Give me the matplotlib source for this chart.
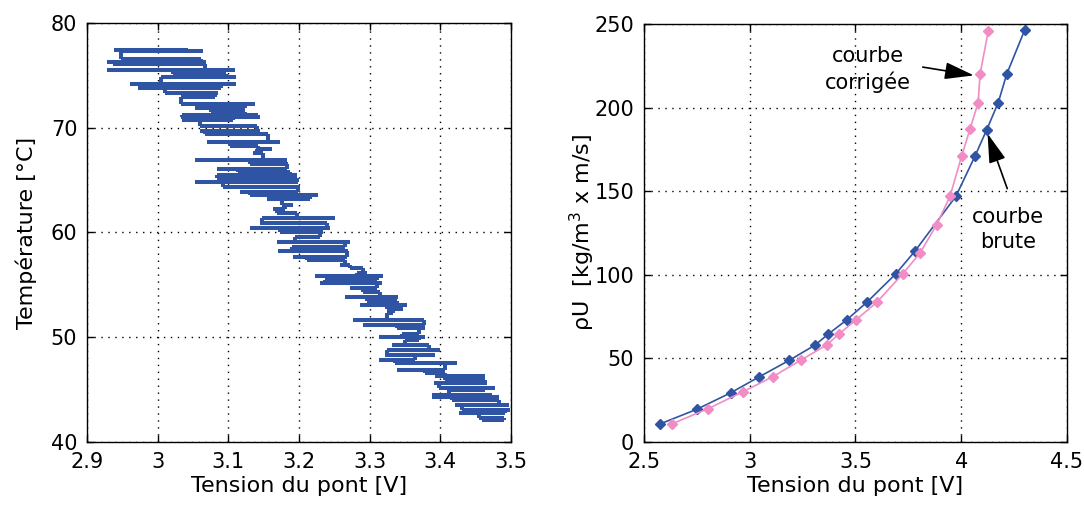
import numpy as np
import matplotlib
matplotlib.use("Agg")
import matplotlib.pyplot as plt

plt.rcParams.update({"font.family": ["DejaVu Sans"], "font.size": 15})

BLUE = "#3054a4"
PINK = "#f28cc4"

# ---- left panel: temperature vs bridge voltage (noisy trace, read as horizontal sweeps) ----
temp_levels = [77.4, 77.3, 76.6, 76.3, 76.1, 75.5, 75.1, 74.8, 74.2, 73.8, 73.3, 72.9, 72.3, 71.9,
               71.5, 71.2, 71.0, 70.7, 70.2, 69.7, 69.4, 68.6, 68.3, 68.0, 67.6, 66.9, 66.5, 66.1,
               65.8, 65.5, 65.2, 64.8, 64.3, 63.9, 63.6, 63.2, 62.6, 62.2, 61.9, 61.4, 60.9, 60.4,
               60.0, 59.6, 59.1, 58.6, 58.2, 57.7, 57.4, 56.9, 56.6, 56.1, 55.8, 55.5, 55.2, 54.7,
               54.3, 53.8, 53.5, 53.1, 52.7, 52.3, 51.6, 51.2, 50.9, 50.3, 50.0, 49.7, 49.3, 48.8,
               48.3, 47.8, 47.5, 46.9, 46.6, 46.3, 45.9, 45.6, 45.2, 45.0, 44.5, 44.3, 44.0, 43.5,
               43.1, 42.8, 42.3, 42.1]
v_low = [2.938, 2.948, 2.948, 2.928, 2.937, 2.928, 3.022, 3.005, 2.961, 2.972, 3.010, 3.033, 3.033, 3.053,
         3.075, 3.034, 3.033, 3.034, 3.060, 3.060, 3.067, 3.070, 3.102, 3.141, 3.135, 3.053, 3.131, 3.084,
         3.114, 3.084, 3.084, 3.053, 3.092, 3.117, 3.131, 3.155, 3.176, 3.163, 3.169, 3.148, 3.145, 3.131,
         3.173, 3.194, 3.169, 3.190, 3.170, 3.191, 3.211, 3.258, 3.272, 3.282, 3.223, 3.237, 3.230, 3.272,
         3.291, 3.265, 3.296, 3.286, 3.325, 3.325, 3.276, 3.291, 3.339, 3.346, 3.313, 3.350, 3.332, 3.325,
         3.322, 3.313, 3.336, 3.339, 3.378, 3.392, 3.407, 3.391, 3.398, 3.412, 3.388, 3.388, 3.416, 3.421,
         3.431, 3.426, 3.455, 3.459]
v_high = [3.043, 3.064, 3.061, 3.068, 3.067, 3.109, 3.097, 3.111, 3.111, 3.090, 3.085, 3.081, 3.138, 3.124,
          3.124, 3.142, 3.145, 3.107, 3.141, 3.145, 3.156, 3.173, 3.142, 3.162, 3.149, 3.183, 3.184, 3.183,
          3.187, 3.197, 3.197, 3.199, 3.201, 3.199, 3.227, 3.216, 3.191, 3.180, 3.197, 3.251, 3.240, 3.244,
          3.234, 3.230, 3.272, 3.265, 3.269, 3.268, 3.265, 3.272, 3.291, 3.296, 3.319, 3.310, 3.317, 3.310,
          3.315, 3.340, 3.339, 3.353, 3.347, 3.333, 3.377, 3.378, 3.378, 3.370, 3.378, 3.370, 3.384, 3.400,
          3.392, 3.364, 3.424, 3.407, 3.407, 3.463, 3.463, 3.466, 3.477, 3.463, 3.473, 3.483, 3.483, 3.497,
          3.499, 3.491, 3.490, 3.490]

# ---- right panel: calibration curves ----
v_brute = [2.576, 2.752, 2.911, 3.045, 3.186, 3.309, 3.370, 3.458, 3.553, 3.690, 3.780,
           3.975, 4.065, 4.120, 4.175, 4.215, 4.300]
rhou_brute = [10.8, 19.7, 29.5, 39.0, 48.8, 58.0, 64.4, 73.0, 83.5, 100.5, 114.0,
              147.0, 171.0, 186.6, 203.0, 220.0, 246.4]
v_corr = [2.631, 2.804, 2.967, 3.108, 3.242, 3.363, 3.420, 3.502, 3.600, 3.723, 3.805,
          3.884, 3.947, 4.002, 4.041, 4.080, 4.089, 4.128]
rhou_corr = [10.8, 20.0, 30.0, 39.0, 49.0, 58.0, 64.4, 73.0, 83.5, 100.5, 113.0,
             130.0, 147.0, 171.0, 187.0, 203.0, 220.0, 246.0]

# horizontal sweeps joined by short vertical steps
xs, ys = [], []
for i, (t, lo, hi) in enumerate(zip(temp_levels, v_low, v_high)):
    pair = (lo, hi) if i % 2 == 0 else (hi, lo)
    if xs:
        c = min(max(xs[-1], lo), hi)
        xs += [np.nan, c, c, np.nan]
        ys += [np.nan, ys[-1], t, np.nan]
    xs += list(pair)
    ys += [t, t]

fig = plt.figure(figsize=(10.84, 5.12), dpi=100)
ax1 = fig.add_axes([0.0803, 0.1367, 0.3911, 0.8184])
ax2 = fig.add_axes([0.5941, 0.1367, 0.3902, 0.8164])

ax1.plot(xs, ys, color=BLUE, lw=2.9, solid_capstyle="butt")
ax1.set_xlim(2.9, 3.5); ax1.set_ylim(40, 80)
ax1.set_xticks(np.arange(2.9, 3.51, 0.1))
ax1.set_xticklabels(["2.9", "3", "3.1", "3.2", "3.3", "3.4", "3.5"])
ax1.set_yticks([40, 50, 60, 70, 80])
ax1.set_xlabel("Tension du pont [V]", fontsize=16, labelpad=3)
ax1.set_ylabel("Température [°C]", fontsize=16)
ax1.yaxis.set_label_coords(-0.118, 0.5)

ax2.plot(v_brute, rhou_brute, color=BLUE, lw=1.2, marker="D", ms=5)
ax2.plot(v_corr, rhou_corr, color=PINK, lw=1.2, marker="D", ms=5)
ax2.set_xlim(2.5, 4.5); ax2.set_ylim(0, 250)
ax2.set_xticks([2.5, 3, 3.5, 4, 4.5])
ax2.set_xticklabels(["2.5", "3", "3.5", "4", "4.5"])
ax2.set_yticks(np.arange(0, 251, 50))
ax2.set_xlabel("Tension du pont [V]", fontsize=16, labelpad=3)
ax2.set_ylabel("ρU  [kg/m$^3$ x m/s]", fontsize=16)
ax2.yaxis.set_label_coords(-0.11, 0.5)

ax2.annotate("", xy=(4.073, 219), xytext=(3.805, 224.5),
             arrowprops=dict(arrowstyle="-|>,head_length=1.2,head_width=0.35", color="k", lw=1.2))
ax2.text(3.56, 223, "courbe\ncorrigée", ha="center", va="center", linespacing=1.3)
ax2.annotate("", xy=(4.12, 186), xytext=(4.222, 150),
             arrowprops=dict(arrowstyle="-|>,head_length=1.2,head_width=0.35", color="k", lw=1.2))
ax2.text(4.221, 127, "courbe\nbrute", ha="center", va="center", linespacing=1.3)

for ax in (ax1, ax2):
    ax.grid(True, color="k", ls=(0, (1, 4)), lw=1.0)
    ax.tick_params(direction="in", top=True, right=True, length=5, width=1, labelsize=15, pad=7)
    for s in ax.spines.values():
        s.set_linewidth(1.0)

fig.savefig("out.png", dpi=100)
